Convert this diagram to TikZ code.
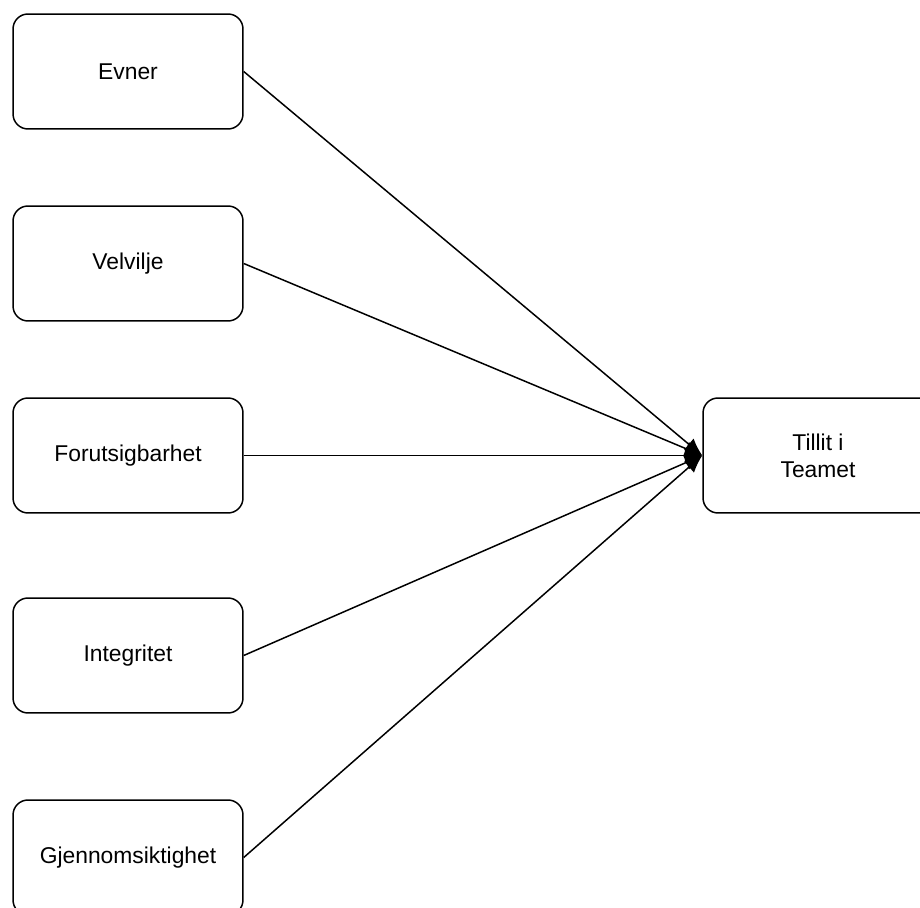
\documentclass[tikz,border=0pt]{standalone}
\usepackage{fontspec}
\setmainfont{Liberation Sans}
\usetikzlibrary{arrows.meta}

\begin{document}
\begin{tikzpicture}[
    x=0.02cm, y=-0.02cm,
    factor/.style={rectangle, draw, rounded corners=0.3cm, line width=0.85pt, minimum width=4.6cm, minimum height=2.3cm, align=center, font=\fontsize{13}{15.5}\selectfont},
    link/.style={line width=0.85pt, -{Latex[length=0.35cm, width=0.3cm]}}
]
\clip (0,0) rectangle (920,908);

% Factors
\node [factor] (evner) at (128,71.5) {Evner};
\node [factor] (velvilje) at (128,263.5) {Velvilje};
\node [factor] (forut) at (128,455.5) {Forutsigbarhet};
\node [factor] (integritet) at (128,655.5) {Integritet};
\node [factor] (gjennom) at (128,857.5) {Gjennomsiktighet};

% Outcome
\node [factor] (tillit) at (818,455.5) {Tillit i\\Teamet};

% Links
\draw [link] (evner.east) -- (tillit.west);
\draw [link] (velvilje.east) -- (tillit.west);
\draw [link] (forut.east) -- (tillit.west);
\draw [link] (integritet.east) -- (tillit.west);
\draw [link] (gjennom.east) -- (tillit.west);

\end{tikzpicture}
\end{document}
